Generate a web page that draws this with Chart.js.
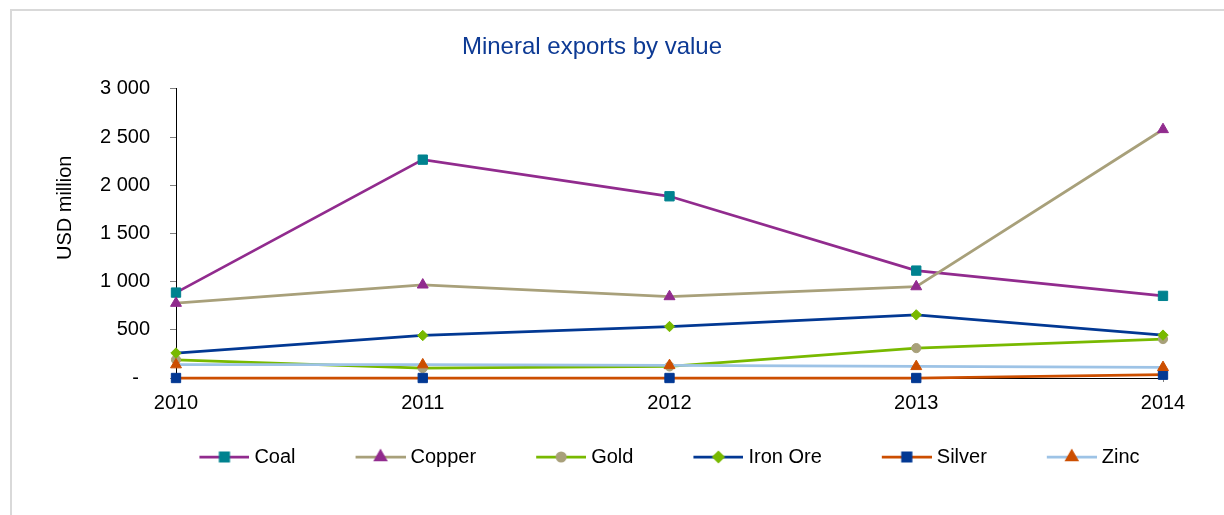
<!DOCTYPE html>
<html>
<head>
<meta charset="utf-8">
<title>Mineral exports by value</title>
<script src="https://cdn.jsdelivr.net/npm/chart.js@4/dist/chart.umd.min.js"></script>
<style>
    html, body { margin: 0; padding: 0; background: #fff; overflow: hidden; }
    #frame { position: absolute; left: 10px; top: 9px; width: 1300px; height: 600px; border: 2px solid #d9d9d9; box-sizing: border-box; }
    #wrap { position: absolute; left: 0; top: 0; width: 1224px; height: 515px; }
</style>
</head>
<body>
<div id="frame"></div>
<div id="wrap"><canvas id="chart"></canvas></div>
<script>
// data, USD million
var years   = ['2010', '2011', '2012', '2013', '2014'];
var coal    = [886, 2265, 1885, 1114, 852];
var copper  = [776, 966, 845, 948, 2578];
var gold    = [189, 103, 120, 310, 404];
var ironOre = [259, 441, 534, 655, 445];
var silver  = [0, 0, 0, 0, 34];
var zinc    = [138, 138, 130, 120, 110];

var yTicks = [0, 500, 1000, 1500, 2000, 2500, 3000];

Chart.defaults.font.family = '"Liberation Sans", Arial, sans-serif';
Chart.defaults.color = '#000';

// line colour, marker colour, marker shape, marker radius
var series = [
    { label: 'Coal',     data: coal,    line: '#912b8e', marker: '#00828f', shape: 'rect',     r: 6.6 },
    { label: 'Copper',   data: copper,  line: '#a8a07a', marker: '#912b8e', shape: 'triangle', r: 6.3 },
    { label: 'Gold',     data: gold,    line: '#78b900', marker: '#a8a07a', shape: 'circle',   r: 4.6 },
    { label: 'Iron Ore', data: ironOre, line: '#023893', marker: '#78b900', shape: 'rectRot',  r: 5.2 },
    { label: 'Silver',   data: silver,  line: '#cc4e00', marker: '#023893', shape: 'rect',     r: 6.6 },
    { label: 'Zinc',     data: zinc,    line: '#9dc3e6', marker: '#cc4e00', shape: 'triangle', r: 6.3 }
];

var legendBox = 45;
// legend gap is made with trailing spaces, so the row does not wrap
var legendGap = '         ';

// small picture of line + marker for the legend
function legendIcon( s ) {
    var c = document.createElement( 'canvas' );
    c.width = legendBox + 10;
    c.height = 20;
    var ctx = c.getContext( '2d' );
    ctx.strokeStyle = s.line;
    ctx.lineWidth = 2.75;
    ctx.beginPath();
    ctx.moveTo( c.width - 50, 10 );
    ctx.lineTo( c.width, 10 );
    ctx.stroke();
    ctx.fillStyle = s.marker;
    ctx.strokeStyle = s.marker;
    Chart.helpers.drawPoint( ctx, { pointStyle: s.shape, radius: s.r * 0.9, rotation: 0, borderWidth: 1 }, c.width - 25, 10 );
    return c;
}

var datasets = series.map( function( s, i ) {
    return {
        label: s.label,
        data: s.data,
        borderColor: s.line,
        backgroundColor: s.marker,
        borderWidth: 2.75,
        tension: 0,
        pointStyle: s.shape,
        pointRadius: s.r,
        pointBackgroundColor: s.marker,
        pointBorderColor: s.marker,
        pointBorderWidth: 1,
        clip: false,
        order: series.length - i
    };
} );

var icons = series.map( legendIcon );

// y axis title, placed like the original
var yTitle = {
    id: 'yTitle',
    afterDraw: function( chart ) {
        var ctx = chart.ctx, area = chart.chartArea;
        ctx.save();
        ctx.translate( area.left - 111, area.top + 119 );
        ctx.rotate( -Math.PI / 2 );
        ctx.font = '20px "Liberation Sans", Arial, sans-serif';
        ctx.fillStyle = '#000';
        ctx.textAlign = 'center';
        ctx.textBaseline = 'middle';
        ctx.fillText( 'USD million', 0, 0 );
        ctx.restore();
    }
};

new Chart( document.getElementById( 'chart' ), {
    type: 'line',
    data: { labels: years, datasets: datasets },
    plugins: [ yTitle ],
    options: {
        responsive: true,
        maintainAspectRatio: false,
        animation: false,
        events: [],
        layout: { padding: { left: 21, right: 61, top: 0, bottom: 38 } },
        plugins: {
            title: {
                display: true,
                text: 'Mineral exports by value',
                color: '#0d3a94',
                font: { size: 24, weight: 'normal' },
                padding: { top: 33, bottom: 27 }
            },
            legend: {
                position: 'bottom',
                fullSize: false,
                labels: {
                    usePointStyle: true,
                    pointStyleWidth: legendBox,
                    padding: 10,
                    font: { size: 20 },
                    color: '#000',
                    generateLabels: function( chart ) {
                        var n = chart.data.datasets.length;
                        return chart.data.datasets.map( function( ds, i ) {
                            return {
                                text: ds.label + ( i < n - 1 ? legendGap : '' ),
                                pointStyle: icons[i],
                                datasetIndex: i,
                                hidden: false,
                                lineWidth: 0,
                                fillStyle: 'transparent',
                                strokeStyle: 'transparent'
                            };
                        } );
                    }
                }
            },
            tooltip: { enabled: false }
        },
        scales: {
            x: {
                type: 'category',
                offset: false,
                grid: { drawOnChartArea: false, color: '#808080', tickLength: 4 },
                border: { color: '#000', width: 1 },
                ticks: { color: '#000', font: { size: 20 }, padding: 9, maxRotation: 0, autoSkip: false },
                afterFit: function( scale ) { scale.height = 59; }
            },
            y: {
                min: yTicks[0],
                max: yTicks[yTicks.length - 1],
                grid: { drawOnChartArea: false, color: '#808080', tickLength: 6 },
                border: { color: '#000', width: 1 },
                afterBuildTicks: function( scale ) {
                    scale.ticks = yTicks.map( function( v ) { return { value: v }; } );
                },
                ticks: {
                    color: '#000',
                    font: { size: 20 },
                    padding: 20,
                    callback: function( value ) {
                        if ( value === 0 ) return '-  ';
                        return String( value ).replace( /\B(?=(\d{3})+(?!\d))/g, ' ' );
                    }
                },
                afterFit: function( scale ) { scale.width = 155; }
            }
        }
    }
} );
</script>
</body>
</html>
